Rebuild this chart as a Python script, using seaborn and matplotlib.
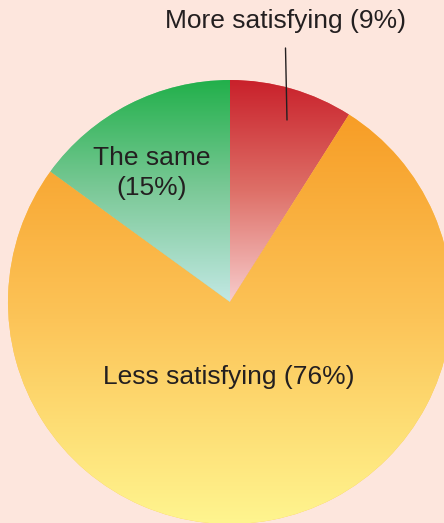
import numpy as np
import matplotlib
matplotlib.use("Agg")
import matplotlib.pyplot as plt
import seaborn as sns

labels = ["More satisfying (9%)", "Less satisfying (76%)", "The same\n(15%)"]
shares = [9, 76, 15]
top_colors = ["#c9212b", "#f79d26", "#22b04b"]
mid_colors = ["#de7068", "#fcc458", "#7cc998"]
bottom_colors = ["#f7cccc", "#fff58f", "#c2e8e4"]
bg = "#fde6dd"
text_color = "#231f20"

sns.set_theme(style="white")
plt.rcParams["font.family"] = ["Liberation Sans", "DejaVu Sans"]

fig = plt.figure(figsize=(4.44, 5.23), dpi=100)
fig.patch.set_facecolor(bg)
ax = fig.add_axes([0, 0, 1, 1])
ax.set_facecolor(bg)

cx, cy, R = 230, 221, 222
wedges, _ = ax.pie(shares, startangle=90, counterclock=False, center=(cx, cy),
                   radius=R, colors=mid_colors, wedgeprops=dict(linewidth=0))
ax.set_xlim(0, 444)
ax.set_ylim(0, 523)
ax.set_aspect("equal")
ax.axis("off")

for w, tc, mc, bc in zip(wedges, top_colors, mid_colors, bottom_colors):
    t = np.radians(np.linspace(w.theta1, w.theta2, 200))
    ys = np.concatenate([cy + R * np.sin(t), [cy]])
    xs = np.concatenate([cx + R * np.cos(t), [cx]])
    y0, y1 = ys.min(), ys.max()
    x0, x1 = xs.min(), xs.max()
    cmap = sns.blend_palette([bc, mc, tc], as_cmap=True)
    grad = np.linspace(0, 1, 256).reshape(-1, 1)
    im = ax.imshow(grad, cmap=cmap, origin="lower", aspect="auto",
                   extent=(x0, x1, y0, y1), interpolation="bilinear", zorder=2)
    im.set_clip_path(w)
ax.set_xlim(0, 444)
ax.set_ylim(0, 523)
ax.set_aspect("auto")

ax.text(285, 523 - 21, labels[0], ha="center", va="center", fontsize=19, color=text_color, zorder=5)
ax.plot([285.5, 287], [523 - 48, 523 - 120], color=text_color, lw=1, zorder=5)
ax.text(152, 523 - 173, labels[2], ha="center", va="center", fontsize=19,
        color=text_color, linespacing=1.3, zorder=5)
ax.text(229, 523 - 377, labels[1], ha="center", va="center", fontsize=19, color=text_color, zorder=5)

fig.savefig("out.png", dpi=100, facecolor=bg)
